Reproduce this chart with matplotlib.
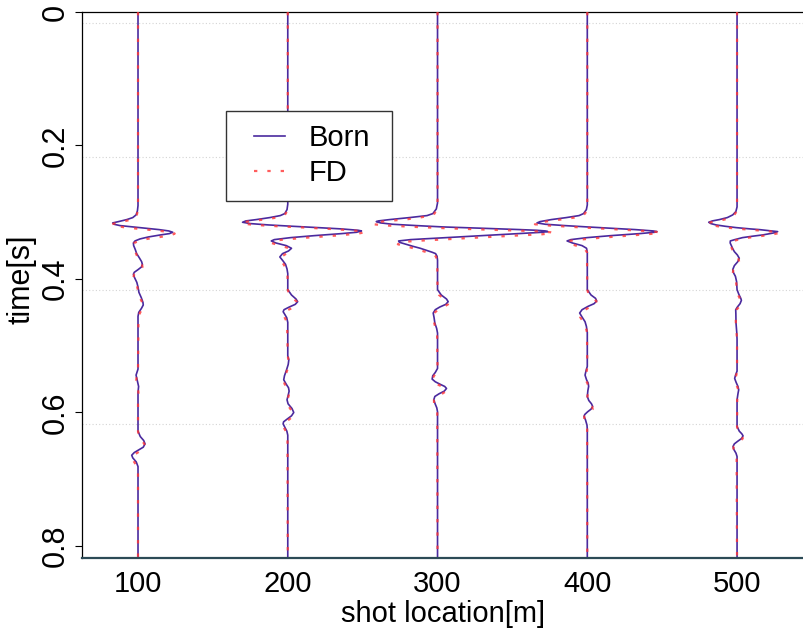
import numpy as np
import matplotlib.pyplot as plt
from matplotlib.legend_handler import HandlerLine2D

plt.rcParams['font.family'] = ['Liberation Sans', 'DejaVu Sans']

shots = [100, 200, 300, 400, 500]
y_ticks = [0, 0.2, 0.4, 0.6, 0.8]
y_ticklabels = ['0', '0.2', '0.4', '0.6', '0.8']
grid_t = [0.0165, 0.2165, 0.4165, 0.6165]

# each trace: sample times [s] and trace deflection [m] for Born and FD
t100 = [0, 0.290, 0.298, 0.304, 0.308, 0.311, 0.314, 0.316, 0.318, 0.320,
        0.323, 0.326, 0.328, 0.330, 0.332, 0.334, 0.337, 0.340, 0.343, 0.346,
        0.350, 0.356, 0.362, 0.368, 0.374, 0.378, 0.382, 0.386, 0.390, 0.393,
        0.398, 0.405, 0.412, 0.420, 0.428, 0.435, 0.439, 0.444, 0.450, 0.456,
        0.535, 0.544, 0.552, 0.561, 0.570, 0.578, 0.628, 0.636, 0.642, 0.647,
        0.652, 0.656, 0.660, 0.664, 0.668, 0.674, 0.681, 0.688, 0.820]
born100 = [0, 0, -0.4, -1.3, -3.5, -7.5, -13.0, -16.9, -16.0, -12.0,
           1.0, 14.0, 20.5, 23.2, 21.0, 15.0, 7.0, 1.3, -2.0, -3.1,
           -2.9, -1.8, -0.9, 0.8, 2.4, 2.9, 2.3, 0.0, -2.5, -3.1,
           -2.3, -0.8, 0.0, 0.6, 2.2, 3.3, 3.5, 2.3, 0.5, 0.0,
           0.0, -1.3, -0.5, 0.4, 0.0, 0.0, 0.0, 1.5, 3.8, 4.7,
           3.5, 0.5, -2.5, -4.2, -3.5, -1.2, 0.0, 0.0, 0]
fd100 = [0, 0, -0.2, -0.8, -2.0, -4.5, -10.0, -14.5, -17.5, -16.0,
         -8.0, 6.0, 15.0, 21.5, 24.5, 22.5, 15.0, 6.0, 0.5, -2.5,
         -3.3, -2.5, -1.3, -0.2, 1.6, 2.7, 3.0, 1.8, -0.8, -2.5,
         -3.2, -1.8, -0.5, 0.2, 1.2, 2.8, 3.5, 3.0, 1.5, 0.3,
         0.0, -0.8, -1.2, -0.2, 0.3, 0.0, 0.0, 0.6, 2.5, 4.2,
         4.6, 2.8, -0.2, -3.0, -4.3, -2.6, -0.6, 0.0, 0]

t200 = [0, 0.288, 0.296, 0.302, 0.305, 0.308, 0.311, 0.313, 0.315, 0.317,
        0.319, 0.321, 0.323, 0.325, 0.327, 0.328, 0.330, 0.332, 0.335, 0.338,
        0.341, 0.343, 0.346, 0.350, 0.354, 0.358, 0.362, 0.367, 0.372, 0.378,
        0.385, 0.392, 0.416, 0.424, 0.430, 0.434, 0.438, 0.442, 0.446, 0.449,
        0.453, 0.458, 0.465, 0.515, 0.521, 0.528, 0.536, 0.545, 0.551, 0.557,
        0.563, 0.568, 0.574, 0.581, 0.587, 0.594, 0.600, 0.605, 0.610, 0.614,
        0.617, 0.622, 0.628, 0.634, 0.820]
born200 = [0, 0, -0.5, -2.0, -5.0, -12.0, -21.0, -28.0, -30.2, -25.0,
           -13.0, 3.0, 20.0, 36.0, 47.0, 49.2, 46.0, 36.0, 18.0, 2.0,
           -9.0, -11.0, -8.0, -1.0, 2.5, 0.5, -3.5, -5.3, -3.5, -1.5,
           -0.5, 0, 0, 2.5, 5.5, 6.6, 5.0, 1.0, -2.5, -3.1,
           -2.0, -0.7, 0, 0, 0.7, 0.3, -0.8, -2.2, -2.7, -1.2,
           0.5, 0.9, 0.3, -0.5, 0.2, 2.8, 4.0, 2.5, -0.5, -2.8,
           -3.1, -2.0, -0.6, 0, 0]
fd200 = [0, 0, -0.3, -1.3, -3.0, -7.5, -16.0, -24.0, -30.0, -30.5,
         -22.0, -7.0, 12.0, 28.0, 42.0, 47.0, 51.5, 47.0, 32.0, 13.0,
         -3.0, -10.0, -11.0, -5.0, 1.0, 2.0, -1.0, -4.5, -5.0, -2.8,
         -1.0, -0.2, 0, 1.0, 4.0, 6.0, 6.5, 4.5, 0.5, -2.0,
         -3.0, -2.0, -0.5, 0, 0.4, 0.6, -0.3, -1.6, -2.6, -2.2,
         -0.3, 0.7, 0.7, -0.2, -0.3, 1.5, 3.6, 3.6, 1.2, -1.5,
         -2.8, -2.8, -1.3, -0.2, 0]

t300 = [0, 0.286, 0.295, 0.302, 0.305, 0.308, 0.311, 0.313, 0.314, 0.316,
        0.318, 0.320, 0.322, 0.324, 0.326, 0.327, 0.328, 0.329, 0.330, 0.331,
        0.333, 0.335, 0.337, 0.339, 0.341, 0.343, 0.345, 0.348, 0.351, 0.354,
        0.357, 0.360, 0.362, 0.366, 0.372, 0.416, 0.424, 0.430, 0.434, 0.438,
        0.442, 0.446, 0.451, 0.458, 0.466, 0.474, 0.481, 0.534, 0.540, 0.545,
        0.550, 0.554, 0.558, 0.561, 0.564, 0.568, 0.572, 0.576, 0.581, 0.587,
        0.593, 0.599, 0.820]
born300 = [0, 0, -0.8, -3.1, -7.0, -18.7, -32.0, -39.5, -40.9, -38.0,
           -30.0, -14.0, 3.5, 30.0, 55.0, 66.0, 72.0, 73.6, 70.0, 62.0,
           46.0, 30.0, 14.0, -2.0, -18.0, -26.0, -25.5, -21.0, -16.5, -11.5,
           -7.5, -3.5, -1.3, -0.3, 0, 0, 2.5, 6.0, 7.1, 5.5,
           1.5, -1.5, -2.9, -2.3, -1.8, -0.6, 0, 0, -1.5, -3.2,
           -3.6, -1.5, 2.0, 4.8, 6.0, 4.5, 1.0, -1.8, -2.5, -1.6,
           -0.5, 0, 0]
fd300 = [0, 0, -0.5, -2.0, -4.5, -12.0, -22.0, -33.0, -37.0, -42.0,
         -43.0, -33.0, -15.0, 6.0, 32.0, 46.0, 60.0, 70.0, 75.5, 77.0,
         70.0, 52.0, 35.0, 18.0, 2.0, -15.0, -25.0, -26.5, -21.0, -16.0,
         -11.5, -7.0, -4.0, -1.2, -0.2, 0, 1.0, 4.5, 6.8, 7.0,
         4.0, 0.5, -2.3, -2.8, -2.2, -1.3, -0.3, 0, -0.6, -2.3,
         -3.5, -3.0, 0.0, 3.0, 5.5, 5.8, 3.0, -0.3, -2.4, -2.3,
         -1.0, -0.2, 0]

t400 = [0, 0.289, 0.296, 0.302, 0.305, 0.308, 0.311, 0.314, 0.316, 0.318,
        0.320, 0.322, 0.324, 0.326, 0.328, 0.329, 0.330, 0.332, 0.335, 0.338,
        0.341, 0.343, 0.346, 0.350, 0.354, 0.360, 0.416, 0.424, 0.429, 0.433,
        0.437, 0.441, 0.446, 0.451, 0.457, 0.464, 0.471, 0.480, 0.531, 0.537,
        0.544, 0.551, 0.556, 0.561, 0.567, 0.576, 0.582, 0.587, 0.591, 0.595,
        0.599, 0.603, 0.606, 0.611, 0.619, 0.625, 0.820]
born400 = [0, 0, -0.6, -2.5, -5.5, -14.0, -24.0, -31.5, -33.6, -28.0,
           -15.0, 0.0, 16.0, 32.0, 44.0, 46.5, 45.0, 35.0, 16.0, 0.0,
           -11.0, -13.5, -10.0, -3.5, -0.5, 0, 0, 2.5, 5.5, 6.3,
           4.5, 0.5, -3.5, -5.1, -3.5, -1.5, -0.6, 0, 0, -0.8,
           -1.5, -0.5, 0.6, 0.9, 0.4, 0, 1.0, 2.8, 3.6, 2.5,
           0.2, -1.7, -2.2, -1.2, -0.2, 0, 0]
fd400 = [0, 0, -0.3, -1.5, -3.5, -8.5, -18.0, -28.0, -33.0, -35.0,
         -25.0, -10.0, 6.0, 22.0, 38.0, 44.0, 48.5, 45.0, 28.0, 10.0,
         -5.0, -12.0, -13.5, -7.5, -2.0, -0.2, 0, 1.0, 4.0, 6.0,
         6.0, 2.8, -1.5, -4.5, -4.8, -2.8, -1.2, -0.2, 0, -0.3,
         -1.2, -1.1, 0.0, 0.8, 0.8, 0.1, 0.4, 1.8, 3.2, 3.6,
         1.6, -0.8, -2.0, -2.0, -0.7, -0.1, 0]

t500 = [0, 0.292, 0.299, 0.304, 0.308, 0.311, 0.313, 0.315, 0.317, 0.319,
        0.321, 0.323, 0.325, 0.326, 0.328, 0.329, 0.331, 0.334, 0.336, 0.338,
        0.341, 0.343, 0.346, 0.349, 0.354, 0.359, 0.364, 0.369, 0.374, 0.380,
        0.386, 0.391, 0.396, 0.404, 0.416, 0.423, 0.429, 0.432, 0.437, 0.442,
        0.446, 0.452, 0.466, 0.480, 0.490, 0.538, 0.544, 0.549, 0.555, 0.561,
        0.566, 0.572, 0.581, 0.621, 0.628, 0.632, 0.635, 0.639, 0.643, 0.647,
        0.651, 0.656, 0.661, 0.666, 0.820]
born500 = [0, 0, -0.8, -2.9, -6.5, -11.8, -16.5, -18.9, -17.5, -14.0,
           -8.0, -0.7, 9.0, 14.9, 23.0, 27.1, 24.5, 17.1, 10.0, 3.7,
           -1.5, -4.5, -4.6, -4.0, -3.0, -1.8, 0.2, 1.5, 0.5, -1.8,
           -2.9, -2.3, -1.1, -0.3, 0, 1.2, 2.5, 2.9, 2.0, 0.2,
           -0.9, -0.8, -0.7, -0.2, 0, 0, -1.0, -1.6, -0.6, 0.6,
           1.1, 0.6, 0, 0, 1.5, 3.2, 4.0, 3.0, 0.5, -1.8,
           -2.7, -2.0, -0.7, 0, 0]
fd500 = [0, 0, -0.4, -1.8, -4.5, -8.5, -13.0, -17.5, -19.5, -17.5,
         -13.0, -7.0, 2.0, 8.0, 18.0, 24.0, 28.5, 22.0, 15.0, 8.0,
         1.0, -2.5, -4.8, -4.6, -3.5, -2.6, -1.0, 0.8, 1.4, -0.6,
         -2.5, -2.8, -2.0, -0.7, -0.1, 0.5, 1.8, 2.6, 2.7, 1.2,
         -0.3, -0.9, -0.8, -0.4, 0, 0, -0.5, -1.3, -1.2, 0.0,
         0.9, 0.9, 0.1, 0, 0.6, 2.2, 3.4, 3.8, 2.0, -0.5,
         -2.2, -2.6, -1.5, -0.3, 0]

times = [t100, t200, t300, t400, t500]
born = [born100, born200, born300, born400, born500]
fd = [fd100, fd200, fd300, fd400, fd500]

born_color = '#4a2a9e'
fd_color = '#ff3535'

fig = plt.figure(figsize=(8.04, 6.34), dpi=100)
ax = fig.add_axes([82 / 804, 1 - 558 / 634, 722 / 804, 546 / 634])

for g in grid_t:
    ax.axhline(g, color='#d4d4d4', lw=0.8, ls=(0, (1, 2)), zorder=0)

for i, shot in enumerate(shots):
    ax.plot(shot + np.array(born[i]), times[i], color=born_color, lw=1.2,
            label='Born' if i == 0 else None, zorder=2)
    ax.plot(shot + np.array(fd[i]), times[i], color=fd_color, lw=1.6,
            alpha=0.8, ls=(0, (1.5, 4.5)),
            label='FD' if i == 0 else None, zorder=3)

ax.set_xlim(62.6, 544.7)
ax.set_ylim(0.818, 0)

ax.set_xticks(shots)
ax.set_xticklabels([str(s) for s in shots], fontsize=21)
ax.set_yticks(y_ticks)
ax.set_yticklabels(y_ticklabels, fontsize=22, rotation=90, va='center')
ax.tick_params(axis='x', length=0, pad=9)
ax.tick_params(axis='y', length=5, width=0.8, pad=3)

ax.set_xlabel('shot location[m]', fontsize=21, labelpad=1)
ax.set_ylabel('time[s]', fontsize=22, labelpad=1)
ax.yaxis.set_label_coords(-0.063, 0.51)

ax.spines['right'].set_visible(False)
ax.spines['top'].set_linewidth(0.9)
ax.spines['left'].set_linewidth(0.9)
ax.spines['bottom'].set_color('#2c4a56')
ax.spines['bottom'].set_linewidth(1.6)

leg = ax.legend(loc='upper left', mode='expand', numpoints=2,
                bbox_to_anchor=(226 / 804, 1 - 198 / 634, 166 / 804, 87 / 634),
                bbox_transform=fig.transFigure, borderaxespad=0,
                fontsize=21, fancybox=False, framealpha=1, edgecolor='#333333',
                borderpad=0.45, labelspacing=0.25, handlelength=2.07,
                handletextpad=0.3,
                handler_map={plt.Line2D: HandlerLine2D(marker_pad=0.5)})
leg.get_frame().set_linewidth(1.0)

fig.savefig('out.png', dpi=100)
